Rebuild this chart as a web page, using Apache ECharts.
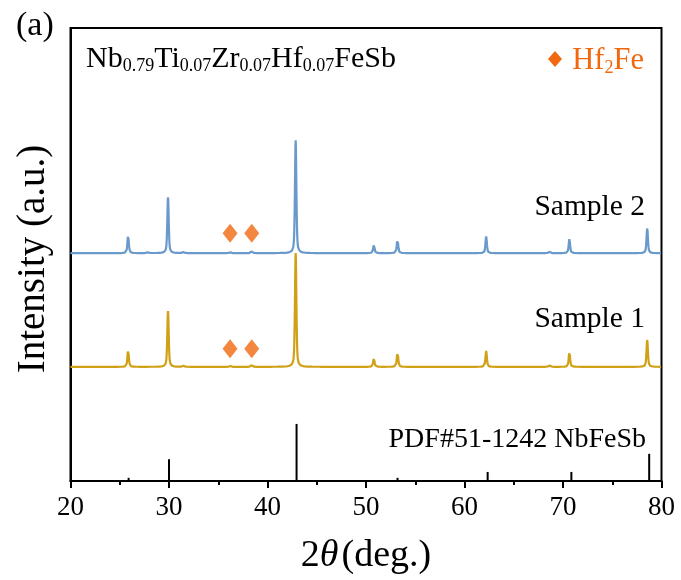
<!DOCTYPE html>
<html>
<head>
<meta charset="utf-8">
<script src="https://cdn.jsdelivr.net/npm/echarts@6/dist/echarts.min.js"></script>
<style>
  html, body { margin: 0; padding: 0; background: #fff; }
  #chart { width: 681px; height: 580px; }
</style>
</head>
<body>
<div id="chart"></div>
<script>
// X-ray diffraction patterns of Nb0.79Ti0.07Zr0.07Hf0.07FeSb, two samples,
// with the NbFeSb reference card (PDF#51-1242) as sticks underneath.

const xTicks = [20, 30, 40, 50, 60, 70, 80];

// Peak positions (2θ, deg.) and intensities (a.u.) above each pattern's baseline
const sample1Pos    = [25.85, 29.9, 31.5, 36.2, 38.4, 42.86, 50.8, 53.2, 62.2, 68.6, 70.65, 78.55];
const sample1Height = [37,    123,  3,    2,    4,    251,   18,   33,   35,   5,    33,    60];
const sample1Offset = 252;

const sample2Pos    = [25.85, 27.9, 29.9, 31.5, 36.2, 38.4, 42.86, 50.8, 53.2, 62.2, 68.6, 70.65, 78.55];
const sample2Height = [40,    4,    123,  3,    2,    4,    249,   18,   31,   37,   4,    31,    55];
const sample2Offset = 503;

// Reference card lines
const refPos    = [25.9, 30.0, 42.95, 50.9, 53.2, 62.35, 68.7, 70.85, 78.75];
const refHeight = [7,    48,   126,   2,    7,    20,    2,    20,    60];

// Hf2Fe impurity markers
const hfPos = [36.2, 38.4];
const hfLevel2 = 547;
const hfLevel1 = 292;

const FWHM = 0.17;
function profile(pos, height, offset) {
  const pts = [];
  for (let i = 0; i <= 3000; i++) {
    const x = 20 + i * 0.02;
    let y = offset;
    for (let k = 0; k < pos.length; k++) {
      const d = (x - pos[k]) / (FWHM / 2);
      const lor = 1 / (1 + d * d);
      const gau = Math.exp(-Math.LN2 * d * d);
      y += height[k] * (0.5 * lor + 0.5 * gau);
    }
    pts.push([+x.toFixed(2), y]);
  }
  return pts;
}

const serif = '"Times New Roman", "Liberation Serif", serif';
const blue = '#6A99CB';
const gold = '#D0A116';
const orange = '#F0690F';

const chart = echarts.init(document.getElementById('chart'), null, { renderer: 'canvas' });

chart.setOption({
  animation: false,
  backgroundColor: '#fff',
  grid: {
    left: 70.5, right: 19.5, top: 28, bottom: 98.3,
    show: true, borderColor: '#000', borderWidth: 2, backgroundColor: 'transparent'
  },
  xAxis: {
    type: 'value', min: 20, max: 80, interval: 10,
    axisLine: { show: true, onZero: false, lineStyle: { color: '#000', width: 2 } },
    axisTick: { show: true, inside: false, length: 7, lineStyle: { color: '#000', width: 2 } },
    minorTick: { show: true, splitNumber: 2, length: 4, lineStyle: { color: '#000', width: 2 } },
    splitLine: { show: false },
    axisLabel: {
      margin: 13, color: '#000', fontFamily: serif, fontSize: 27,
      formatter: v => (xTicks.includes(v) ? String(v) : '')
    },
    name: '{n|2}{t|θ}{n|(deg.)}',
    nameLocation: 'middle', nameGap: 56,
    nameTextStyle: {
      rich: {
        n: { fontFamily: serif, fontSize: 38, color: '#000' },
        t: { fontFamily: serif, fontSize: 38, fontStyle: 'italic', color: '#000', padding: [0, 3, 0, 0] }
      }
    }
  },
  yAxis: {
    type: 'value', min: 0, max: 1000,
    axisLine: { show: true, lineStyle: { color: '#000', width: 2 } },
    axisTick: { show: false }, axisLabel: { show: false }, splitLine: { show: false }
  },
  title: [
    { text: '(a)', left: 11, top: 4, textStyle: { fontFamily: serif, fontSize: 34, fontWeight: 'normal', color: '#000' } },
    {
      text: 'Nb{s|0.79}Ti{s|0.07}Zr{s|0.07}Hf{s|0.07}FeSb', left: 81, top: 38,
      textStyle: {
        fontFamily: serif, fontSize: 30, fontWeight: 'normal', color: '#000',
        rich: { s: { fontFamily: serif, fontSize: 18, color: '#000', verticalAlign: 'bottom', padding: [14, 0, 0, 0] } }
      }
    },
    {
      text: 'Hf{s|2}Fe', right: 32, top: 40,
      textStyle: {
        fontFamily: serif, fontSize: 30.5, fontWeight: 'normal', color: orange,
        rich: { s: { fontFamily: serif, fontSize: 18, color: orange, verticalAlign: 'bottom', padding: [14, 0, 0, 0] } }
      }
    },
    { text: 'Sample 2', right: 31, top: 187, textStyle: { fontFamily: serif, fontSize: 29.5, fontWeight: 'normal', color: '#000' } },
    { text: 'Sample 1', right: 31, top: 299, textStyle: { fontFamily: serif, fontSize: 29.5, fontWeight: 'normal', color: '#000' } },
    { text: 'PDF#51-1242 NbFeSb', right: 30, top: 421, textStyle: { fontFamily: serif, fontSize: 28, fontWeight: 'normal', color: '#000' } }
  ],
  graphic: [
    {
      type: 'polygon', left: 548, top: 51,
      shape: { points: [[7, 0], [14, 8], [7, 16], [0, 8]] },
      style: { fill: orange }
    },
    {
      type: 'text', x: 34, y: 259, rotation: Math.PI / 2,
      style: {
        text: 'Intensity (a.u.)', fontFamily: serif, fontSize: 39, fill: '#000',
        align: 'center', verticalAlign: 'middle'
      }
    }
  ],
  series: [
    {
      name: 'Sample 1', type: 'line', data: profile(sample1Pos, sample1Height, sample1Offset),
      showSymbol: false, lineStyle: { color: gold, width: 2.2 }, z: 3
    },
    {
      name: 'Sample 2', type: 'line', data: profile(sample2Pos, sample2Height, sample2Offset),
      showSymbol: false, lineStyle: { color: blue, width: 2.2 }, z: 3
    },
    {
      name: 'PDF#51-1242', type: 'bar', barWidth: 2,
      data: refPos.map((p, i) => [p, refHeight[i]]),
      itemStyle: { color: '#000' }, z: 4
    },
    {
      name: 'Hf2Fe', type: 'scatter', symbol: 'diamond', symbolSize: [15, 19],
      data: hfPos.map(p => [p, hfLevel2]).concat(hfPos.map(p => [p, hfLevel1])),
      itemStyle: { color: orange }, z: 5
    }
  ]
});
</script>
</body>
</html>
